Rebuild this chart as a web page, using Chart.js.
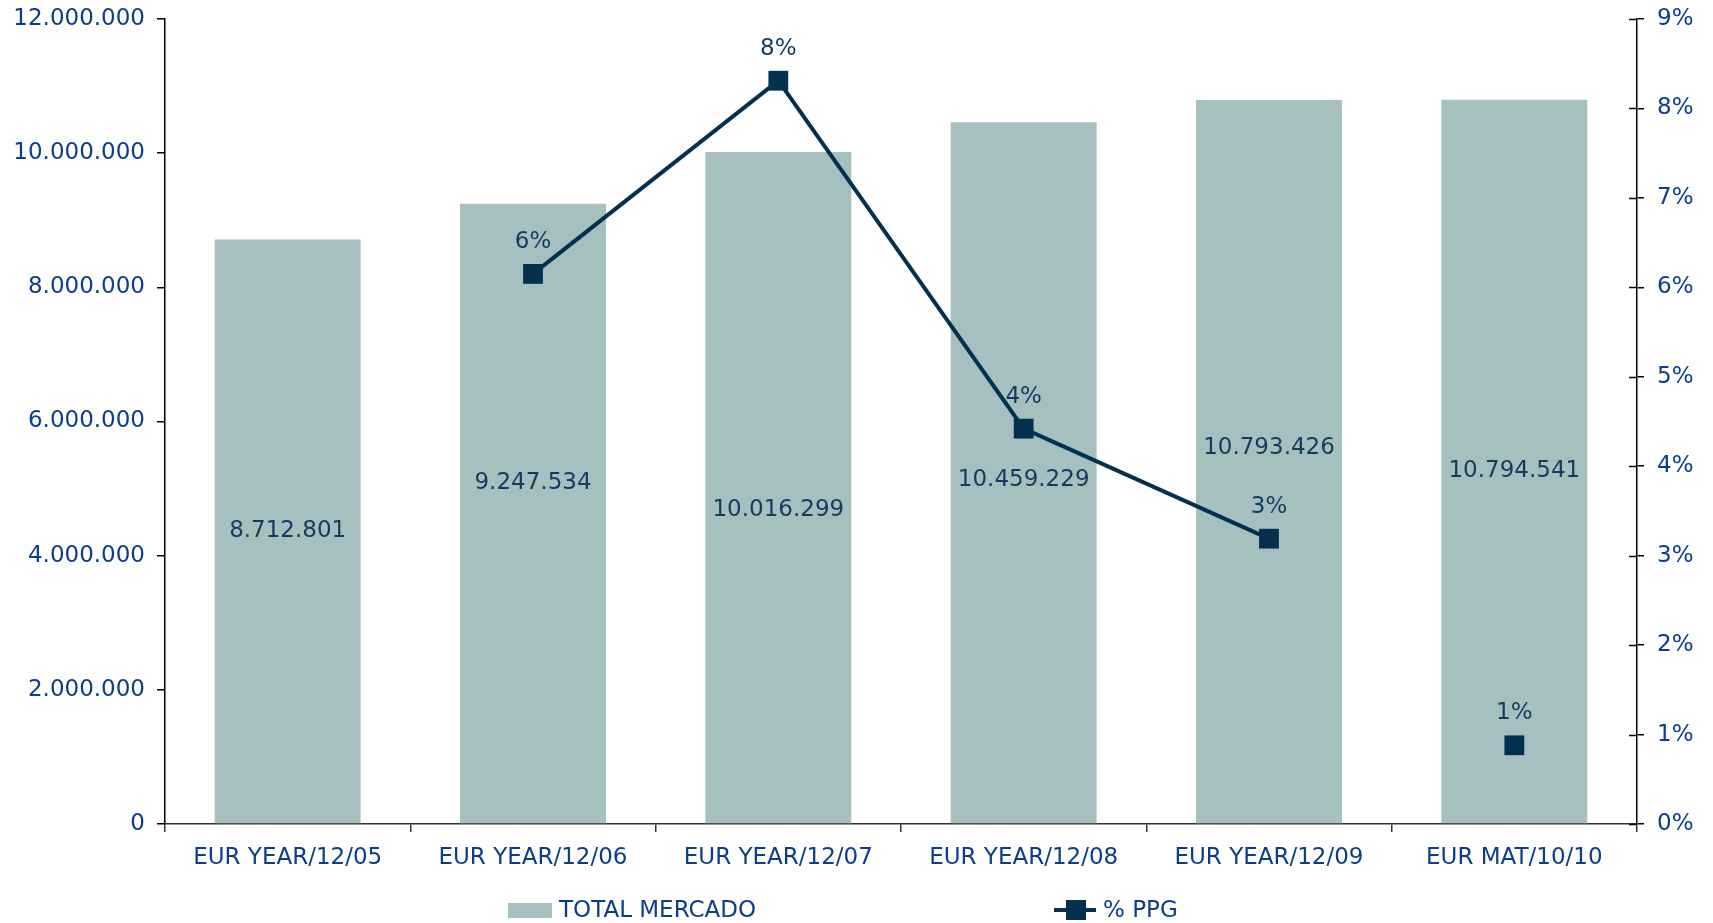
<!DOCTYPE html>
<html>
<head>
<meta charset="utf-8">
<script src="https://cdn.jsdelivr.net/npm/chart.js@4"></script>
<style>
  html, body { margin: 0; padding: 0; background: #fff; }
  canvas { display: block; }
</style>
</head>
<body>
<canvas id="marketChart" width="1713" height="923"></canvas>
<script>
const categories = [
  "EUR YEAR/12/05",
  "EUR YEAR/12/06",
  "EUR YEAR/12/07",
  "EUR YEAR/12/08",
  "EUR YEAR/12/09",
  "EUR MAT/10/10",
];
const totalMercado = [8712801, 9247534, 10016299, 10459229, 10793426, 10794541];
const ppg = [null, 6.15, 8.31, 4.42, 3.19, 0.88];
const seriesNames = ["TOTAL MERCADO", "% PPG"];

// label nudges (px) so the bar values sit where the original has them
const barLabelNudge = [0, -30, 22, 7, -14, 9];

const BAR = "#a6bfbf";
const NAVY = "#03304f";
const TICK_BLUE = "#0c3c8c";
const LABEL = "#173a5c";
const FONT = "DejaVu Sans, Verdana, sans-serif";
const SIZE = 23;

function fmtThousands(v) {
  return String(Math.round(v)).replace(/\B(?=(\d{3})+(?!\d))/g, ".");
}

const labelsPlugin = {
  id: "labels",
  afterDatasetsDraw(chart) {
    const ctx = chart.ctx;
    ctx.save();
    ctx.font = SIZE + "px " + FONT;
    ctx.fillStyle = LABEL;
    ctx.textAlign = "center";
    ctx.textBaseline = "middle";

    chart.getDatasetMeta(1).data.forEach((bar, i) => {
      const y = (bar.y + bar.base) / 2 + barLabelNudge[i];
      ctx.fillText(fmtThousands(totalMercado[i]), bar.x, y);
    });

    chart.getDatasetMeta(0).data.forEach((pt, i) => {
      if (ppg[i] == null) return;
      ctx.fillText(Math.round(ppg[i]) + "%", pt.x, pt.y - 32);
    });
    ctx.restore();
  },
  afterDraw(chart) {
    // legend at the bottom, drawn by hand to keep the wide spacing
    const ctx = chart.ctx;
    ctx.save();
    ctx.font = SIZE + "px " + FONT;
    ctx.textBaseline = "middle";
    ctx.textAlign = "left";
    ctx.fillStyle = BAR;
    ctx.fillRect(508, 903, 44, 15);
    ctx.fillStyle = TICK_BLUE;
    ctx.fillText(seriesNames[0], 559, 911);

    ctx.strokeStyle = NAVY;
    ctx.lineWidth = 4;
    ctx.beginPath();
    ctx.moveTo(1054, 910);
    ctx.lineTo(1096, 910);
    ctx.stroke();
    ctx.fillStyle = NAVY;
    ctx.fillRect(1066, 900, 20, 20);
    ctx.fillStyle = TICK_BLUE;
    ctx.fillText(seriesNames[1], 1103, 911);

    // right axis ticks also cross into the plot
    const y1 = chart.scales.y1;
    ctx.strokeStyle = "#000";
    ctx.lineWidth = 1.5;
    y1.ticks.forEach((t) => {
      const y = Math.round(y1.getPixelForValue(t.value)) + 0.5;
      ctx.beginPath();
      ctx.moveTo(y1.left - 8, y);
      ctx.lineTo(y1.left, y);
      ctx.stroke();
    });
    ctx.restore();
  },
};

function fixVertical(width) {
  return (s) => {
    s.width = width;
    s.paddingTop = 0;
    s.paddingBottom = 0;
  };
}

new Chart(document.getElementById("marketChart"), {
  type: "bar",
  data: {
    labels: categories,
    datasets: [
      {
        type: "line",
        label: seriesNames[1],
        data: ppg,
        yAxisID: "y1",
        borderColor: NAVY,
        borderWidth: 4,
        pointStyle: "rect",
        pointRadius: 14,
        pointBorderWidth: 0,
        pointBackgroundColor: NAVY,
        spanGaps: false,
        segment: {
          // MAT point is not joined to the yearly points
          borderColor: (c) => (c.p1DataIndex === 5 ? "rgba(0,0,0,0)" : NAVY),
        },
        order: 0,
      },
      {
        label: seriesNames[0],
        data: totalMercado,
        yAxisID: "y",
        backgroundColor: BAR,
        categoryPercentage: 1,
        barPercentage: 0.595,
        order: 1,
      },
    ],
  },
  options: {
    responsive: false,
    animation: false,
    layout: { padding: { top: 19, left: 0, right: 0, bottom: 0 } },
    plugins: {
      legend: { display: false },
      tooltip: { enabled: false },
    },
    scales: {
      x: {
        offset: true,
        grid: {
          offset: true,
          drawOnChartArea: false,
          tickLength: 8,
          color: "#333",
          lineWidth: 1.5,
        },
        border: { color: "#333", width: 1.5 },
        ticks: {
          color: TICK_BLUE,
          font: { family: FONT, size: SIZE },
          padding: 12,
          maxRotation: 0,
        },
        afterFit: (s) => { s.height = 99; },
      },
      y: {
        position: "left",
        min: 0,
        max: 12000000,
        ticks: {
          stepSize: 2000000,
          color: TICK_BLUE,
          font: { family: FONT, size: SIZE },
          padding: 12,
          callback: (v) => fmtThousands(v),
        },
        grid: { drawOnChartArea: false, tickLength: 8, color: "#000", lineWidth: 1.5 },
        border: { color: "#000", width: 1.5 },
        afterFit: fixVertical(165),
      },
      y1: {
        position: "right",
        min: 0,
        max: 9,
        ticks: {
          stepSize: 1,
          color: TICK_BLUE,
          font: { family: FONT, size: SIZE },
          padding: 13,
          callback: (v) => v + "%",
        },
        grid: { drawOnChartArea: false, tickLength: 7, color: "#000", lineWidth: 1.5 },
        border: { color: "#000", width: 1.5 },
        afterFit: fixVertical(76),
      },
    },
  },
  plugins: [labelsPlugin],
});
</script>
</body>
</html>
